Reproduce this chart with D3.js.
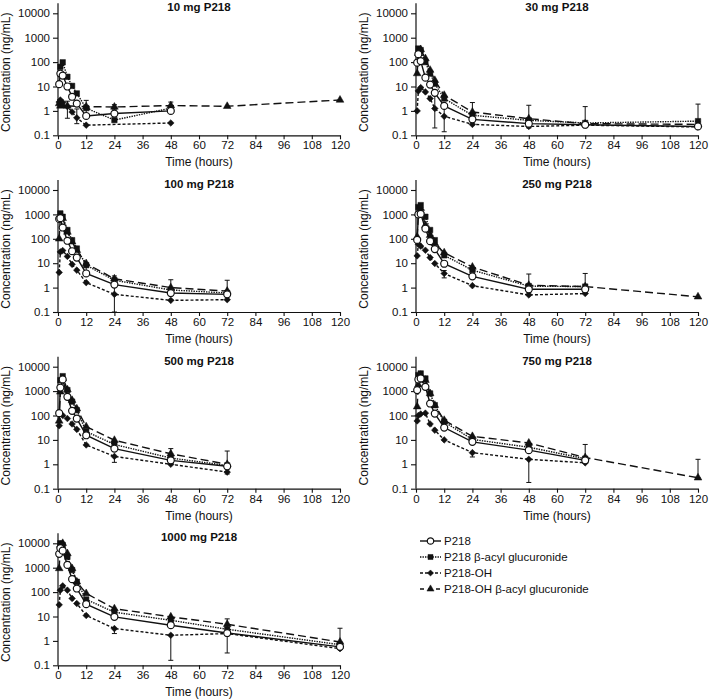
<!DOCTYPE html>
<html><head><meta charset="utf-8">
<script src="https://cdn.jsdelivr.net/npm/d3@7"></script>
<style>body{margin:0;background:#fff} text{font-family:"Liberation Sans",Arial,Helvetica,sans-serif;fill:#111}</style>
</head><body><svg id="c" width="709" height="699"></svg>
<script>
// ---- data ----
const times = [0.5, 1, 2, 4, 6, 8, 12, 24, 48, 72, 120];
const doseLabels = ["10 mg P218", "30 mg P218", "100 mg P218", "250 mg P218", "500 mg P218", "750 mg P218", "1000 mg P218"];
const xTicks = [0, 12, 24, 36, 48, 60, 72, 84, 96, 108, 120];
const yTicks = [0.1, 1, 10, 100, 1000, 10000];
const yTickLabels = ["0.1", "1", "10", "100", "1000", "10000"];
const seriesNames = ["P218", "P218 \u03b2-acyl glucuronide", "P218-OH", "P218-OH \u03b2-acyl glucuronide"];

// P218 (open circles)
const p218 = [
  [12.5, 34, 28, 10, 3.8, 2.0, 0.62, 0.78, 1.0, null, null],
  [95, 210, 110, 23, 12, 5.5, 1.6, 0.45, 0.3, 0.27, 0.23],
  [650, 700, 290, 83, 31, 17, 3.8, 1.33, 0.6, 0.53, null],
  [90, 1000, 1050, 260, 80, 38, 9.5, 2.9, 0.85, 0.85, null],
  [125, 1400, 3000, 580, 155, 75, 15.5, 4.4, 1.45, 0.83, null],
  [1100, 3000, 3300, 1500, 310, 120, 32, 8.3, 3.8, 1.45, null],
  [3700, 6300, 5000, 1300, 340, 140, 32, 9.7, 4.4, 2.1, 0.57]
];
// P218 beta-acyl glucuronide (filled squares)
const p218Gluc = [
  [null, 64, 98, 25, 10.6, 5.2, 1.3, 0.42, 1.3, null, null],
  [null, 360, 310, 100, 34, 13, 3.2, 0.66, 0.41, 0.32, 0.38],
  [null, 1100, 800, 230, 88, 40, 8.3, 2.0, 0.8, 0.6, null],
  [null, 2000, 2400, 800, 230, 88, 21, 5.2, 1.15, 1.1, null],
  [null, 2800, 4100, 1100, 370, 165, 22, 6.5, 1.8, 0.9, null],
  [null, 4500, 5300, 3300, 800, 265, 55, 10.5, 5.0, 1.7, null],
  [null, 10000, 8500, 2800, 800, 265, 50, 15, 7.0, 3.0, 0.7]
];
// P218-OH (filled diamonds)
const p218OH = [
  [2.3, 2.8, 2.2, 1.5, 0.9, 0.52, 0.26, null, 0.32, null, null],
  [1.0, 6.6, 9, 6, 3.2, 1.25, 0.6, 0.28, 0.23, 0.26, 0.22],
  [4.2, 29, 33, 19, 9, 5.2, 1.6, 0.53, 0.3, 0.32, null],
  [20, 60, 50, 34, 17, 9.7, 3.8, 1.2, 0.5, 0.57, null],
  [38, 120, 100, 75, 45, 27, 6.2, 2.1, 1.0, 0.48, null],
  [60, 100, 115, 125, 45, 25, 10, 3.0, 1.6, 1.15, null],
  [30, 120, 180, 120, 55, 34, 11, 3.2, 1.7, 2.0, 0.48]
];
// P218-OH beta-acyl glucuronide (filled triangles)
const p218OHGluc = [
  [2.0, 1.6, 1.7, 1.6, null, null, 1.5, 1.45, 1.65, 1.55, 2.8],
  [34, 230, 330, 140, 47, 18, 4.4, 0.9, 0.48, 0.3, 0.28],
  [100, 800, 690, 190, 75, 34, 9.7, 2.3, 1.0, 0.72, null],
  [120, 1100, 1800, 360, 140, 64, 27, 7, 1.25, 1.1, 0.42],
  [60, 930, 3300, 1150, 420, 190, 35, 9.7, 2.7, 1.0, null],
  [230, 1800, 4500, 2800, 800, 265, 64, 14, 7.5, 1.9, 0.28],
  [930, 8500, 10000, 3800, 930, 265, 88, 21, 9.7, 4.8, 0.9]
];
// error bars per panel: [time, low, high]
const errorBars = [
  [[4, 0.5, 2.5], [8, 0.3, 1.2], [12, 0.6, 2.7], [24, 1.1, 1.8], [48, 1.0, 2.3]],
  [[8, 0.2, 5], [12, 0.14, 1.4], [24, 0.45, 2.2], [48, 0.2, 1.7], [72, 0.27, 1.5], [120, 0.36, 1.9]],
  [[12, 3.8, 9], [24, 0.1, 3.0], [48, 0.9, 2.1], [72, 0.6, 2.0]],
  [[12, 2.5, 5], [48, 0.6, 3.6], [72, 0.6, 3.8]],
  [[24, 1.2, 2.1], [48, 1.5, 4.4], [72, 0.4, 3.5]],
  [[24, 2.0, 3.0], [48, 0.18, 1.6], [72, 1.15, 6.5], [120, 0.28, 1.6]],
  [[24, 2.0, 3.2], [48, 0.16, 1.7], [72, 0.32, 8], [120, 0.48, 3.3]]
];

// ---- layout ----
const svg = d3.select("#c");
const colX = [58, 416];
const rowTop = [13.3, 190, 366.7, 543.3];
const pw = 282, ph = 122;
const fontFam = '"Liberation Sans",Arial,Helvetica,sans-serif';

const seriesData = [p218, p218Gluc, p218OH, p218OHGluc];
const dashes = [null, "1.4,1.1", "3,2", "8,4"];
const symbols = [d3.symbolCircle, d3.symbolSquare, d3.symbolSquare, d3.symbolTriangle];
const symSizes = [38, 30, 22, 26];
const rotations = [0, 0, 45, 0];
const fills = ["#fff", "#111", "#111", "#111"];

function drawMarker(g, si, x, y, scale) {
  const k = scale || 1;
  g.append("path")
    .attr("d", d3.symbol().type(symbols[si]).size(symSizes[si] * k)())
    .attr("transform", `translate(${x},${y}) rotate(${rotations[si]})`)
    .attr("fill", fills[si]).attr("stroke", "#111").attr("stroke-width", si === 0 ? 1.2 : 0.5);
}

doseLabels.forEach((label, p) => {
  const col = p % 2, row = Math.floor(p / 2);
  const x0 = colX[col], top = rowTop[row];
  const x = d3.scaleLinear().domain([0, 120]).range([x0, x0 + pw]);
  const y = d3.scaleLog().domain([0.1, 10000]).range([top + ph, top]);
  const g = svg.append("g");

  // y axis
  const ya = g.append("g").attr("transform", `translate(${x0},0)`)
    .call(d3.axisLeft(y).tickValues(yTicks).tickFormat((d, i) => yTickLabels[i]).tickSize(5).tickPadding(3).tickSizeOuter(0));
  ya.select(".domain").remove();
  ya.selectAll("line").attr("stroke", "#111").attr("stroke-width", 1.1);
  ya.selectAll("text").attr("font-size", "11.5px").attr("font-family", fontFam).attr("fill", "#111");
  g.append("line").attr("x1", x0).attr("x2", x0).attr("y1", top - 10).attr("y2", top + ph)
    .attr("stroke", "#111").attr("stroke-width", 1.2);

  // x axis
  const xa = g.append("g").attr("transform", `translate(0,${top + ph})`)
    .call(d3.axisBottom(x).tickValues(xTicks).tickSize(4).tickPadding(2).tickSizeOuter(0));
  xa.select(".domain").attr("stroke", "#111").attr("stroke-width", 1.2);
  xa.selectAll("line").attr("stroke", "#111").attr("stroke-width", 1.1);
  xa.selectAll("text").attr("font-size", "11.5px").attr("font-family", fontFam).attr("fill", "#111");

  g.append("text").attr("x", x0 + pw / 2).attr("y", top + ph + 31).attr("text-anchor", "middle")
    .attr("font-size", "12px").text("Time (hours)");
  g.append("text").attr("transform", `translate(${x0 - 48},${top + ph / 2 - 2}) rotate(-90)`)
    .attr("text-anchor", "middle").attr("font-size", "12px").text("Concentration (ng/mL)");
  g.append("text").attr("x", x0 + pw / 2).attr("y", top - 2).attr("text-anchor", "middle")
    .attr("font-size", "11.5px").attr("font-weight", "bold").text(label);

  // error bars
  errorBars[p].forEach(([t, lo, hi]) => {
    const ex = x(t);
    g.append("line").attr("x1", ex).attr("x2", ex).attr("y1", y(lo)).attr("y2", y(hi))
      .attr("stroke", "#111").attr("stroke-width", 1);
    [lo, hi].forEach(v => {
      g.append("line").attr("x1", ex - 2.5).attr("x2", ex + 2.5).attr("y1", y(v)).attr("y2", y(v))
        .attr("stroke", "#111").attr("stroke-width", 1);
    });
  });

  // lines (draw order: triangle, diamond, square, circle)
  const order = [3, 2, 1, 0];
  order.forEach(si => {
    const pts = times.map((t, i) => [t, seriesData[si][p][i]]).filter(d => d[1] != null);
    const line = d3.line().x(d => x(d[0])).y(d => y(d[1]));
    const path = g.append("path").attr("d", line(pts)).attr("fill", "none")
      .attr("stroke", "#111").attr("stroke-width", 1.4);
    if (dashes[si]) path.attr("stroke-dasharray", dashes[si]);
  });
  order.forEach(si => {
    times.forEach((t, i) => {
      const v = seriesData[si][p][i];
      if (v != null) drawMarker(g, si, x(t), y(v));
    });
  });
});

// legend
const lg = svg.append("g");
seriesNames.forEach((name, si) => {
  const ly = 541 + si * 16;
  const l = lg.append("line").attr("x1", 420).attr("x2", 441).attr("y1", ly).attr("y2", ly)
    .attr("stroke", "#111").attr("stroke-width", 1.4);
  if (dashes[si]) l.attr("stroke-dasharray", si === 3 ? "4,4" : dashes[si]);
  drawMarker(lg, si, 430.5, ly, 0.85);
  lg.append("text").attr("x", 444).attr("y", ly + 4).attr("font-size", "11.5px").text(name);
});
</script>
</body></html>
